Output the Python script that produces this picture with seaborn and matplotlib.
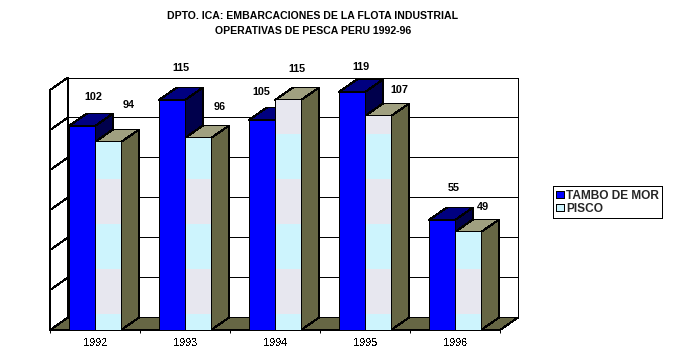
import numpy as np
import pandas as pd
import matplotlib
matplotlib.use('Agg')
import matplotlib.pyplot as plt
from matplotlib.patches import Polygon
import seaborn as sns

# Datos de la grafica
years = ['1992', '1993', '1994', '1995', '1996']
tambo = [102, 115, 105, 119, 55]
pisco = [94, 96, 115, 107, 49]
series_names = ['TAMBO DE MOR', 'PISCO']
y_ticks = [0, 20, 40, 60, 80, 100, 120]

# Desplazamiento en pixeles de cada etiqueta respecto al tope de su barra
tambo_label_dx = [11, 9, -1, 9, 12]
tambo_label_dy = [29, 32, 28, 25, 32]
pisco_label_dx = [21, 22, 9, 21, 15]
pisco_label_dy = [37, 31, 31, 26, 25]

W, H = 694, 359
DX, DY = 0.2, 6.25  # profundidad del efecto 3D en unidades de datos
OLIVE = '#666644'
LW = 0.72

sns.set_theme(style='white')
plt.rcParams['font.family'] = ['Liberation Sans', 'DejaVu Sans']
plt.rcParams['text.antialiased'] = False
plt.rcParams['patch.antialiased'] = False
plt.rcParams['lines.antialiased'] = False

df = pd.DataFrame({
    'anio': years * 2,
    'valor': tambo + pisco,
    'puerto': [series_names[0]] * 5 + [series_names[1]] * 5,
})

fig = plt.figure(figsize=(W / 100, H / 100), dpi=100, facecolor='white')
ax = fig.add_axes([50 / W, (H - 330) / H, 450 / W, 240 / H])
ax.patch.set_visible(False)

sns.barplot(data=df, x='anio', y='valor', hue='puerto', order=years,
            hue_order=series_names, palette=['#0000ff', '#cdf4fd'],
            width=0.58, saturation=1, edgecolor='black', linewidth=LW,
            zorder=3, ax=ax)
ax.set_xlim(-0.5, 4.5)
ax.set_ylim(0, 120)
ax.set_xlabel('')
ax.set_ylabel('')


def face(points, color, z):
    ax.add_patch(Polygon(points, closed=True, facecolor=color, edgecolor='black',
                         linewidth=LW, clip_on=False, zorder=z))


# Paredes y piso
x0, x1 = ax.get_xlim()
y0, y1 = ax.get_ylim()
face([(x0 + DX, y0 + DY), (x1 + DX, y0 + DY), (x1 + DX, y1 + DY), (x0 + DX, y1 + DY)], 'white', 0.2)
face([(x0, y0), (x0 + DX, y0 + DY), (x0 + DX, y1 + DY), (x0, y1)], 'white', 0.2)
face([(x0, y0), (x1, y0), (x1 + DX, y0 + DY), (x0 + DX, y0 + DY)], OLIVE, 0.6)
for v in y_ticks[1:-1]:
    ax.plot([x0, x0 + DX, x1 + DX], [v, v + DY, v + DY], color='black', lw=LW,
            clip_on=False, zorder=0.4)


# Textura de PISCO: bandas alternas cian / gris desde la base
def bands(height, width):
    cyan = np.array([205, 244, 253]) / 255
    grey = np.array([231, 231, 239]) / 255
    tex = np.ones((height, width, 3))
    for i in range(height):
        from_base = height - 1 - i
        tex[i, :] = cyan if int((from_base + 30) // 45) % 2 == 0 else grey
    return tex


tambo_bars, pisco_bars = ax.containers[0], ax.containers[1]

for bar in tambo_bars:
    x, w, h = bar.get_x(), bar.get_width(), bar.get_height()
    face([(x, h), (x + DX, h + DY), (x + w + DX, h + DY), (x + w, h)], '#000080', 1.0)
    face([(x + w, h), (x + w + DX, h + DY), (x + w + DX, DY), (x + w, 0)], '#00004c', 1.0)

for bar in pisco_bars:
    x, w, h = bar.get_x(), bar.get_width(), bar.get_height()
    face([(x, h), (x + DX, h + DY), (x + w + DX, h + DY), (x + w, h)], '#a0a080', 1.5)
    face([(x + w, h), (x + w + DX, h + DY), (x + w + DX, DY), (x + w, 0)], OLIVE, 1.5)

# Leyenda
handles, labels = ax.get_legend_handles_labels()
leg = ax.legend(handles, labels, loc='lower left',
                bbox_to_anchor=(553 / W, (H - 218) / H), bbox_transform=fig.transFigure,
                fancybox=False, framealpha=1, edgecolor='black', borderaxespad=0,
                prop={'family': 'Liberation Sans', 'weight': 'bold', 'size': 8.6},
                handlelength=0.6, handleheight=0.6, handletextpad=0.2,
                labelspacing=0.08, borderpad=0.28)
leg.get_frame().set_linewidth(LW)
for handle in leg.get_patches():
    handle.set_linewidth(LW)
for text in leg.get_texts():
    text.set_antialiased(True)

# Etiquetas de valores
for bars, values, dxs, dys in [(tambo_bars, tambo, tambo_label_dx, tambo_label_dy),
                               (pisco_bars, pisco, pisco_label_dx, pisco_label_dy)]:
    for bar, v, dx, dy in zip(bars, values, dxs, dys):
        ax.annotate(str(v), (bar.get_x() + bar.get_width() / 2, v),
                    xytext=(dx * 0.72, dy * 0.72), textcoords='offset points',
                    ha='center', va='center', fontsize=7.8, fontweight='bold',
                    color='black', annotation_clip=False, zorder=5, antialiased=True)

# Ejes
sns.despine(ax=ax, top=True, right=True)
for side in ['left', 'bottom']:
    ax.spines[side].set_color('black')
    ax.spines[side].set_linewidth(LW)
    ax.spines[side].set_zorder(2.5)
ax.set_yticks([])
ax.set_xticks(range(len(years)))
ax.set_xticklabels(years, fontsize=7.8, color='black')
ax.tick_params(axis='x', which='major', length=0, pad=6)
ax.set_xticks(np.arange(-0.5, 5), minor=True)
ax.tick_params(axis='x', which='minor', bottom=True, length=2, width=LW, color='black')

# La textura va pixel a pixel dentro del borde de cada barra de PISCO
for bar in pisco_bars:
    box = bar.get_window_extent()
    left, right = int(round(box.x0)) + 1, int(round(box.x1))
    bottom, top = int(round(box.y0)) + 1, int(round(box.y1))
    fig.figimage(bands(top - bottom, right - left), xo=left, yo=bottom,
                 origin='upper', zorder=4)

# Titulo
fig.text(313 / W, 1 - 16 / H, 'DPTO. ICA: EMBARCACIONES DE LA FLOTA INDUSTRIAL',
         ha='center', va='center', fontsize=7.55, fontweight='bold', color='black', antialiased=True)
fig.text(313 / W, 1 - 31 / H, 'OPERATIVAS DE PESCA PERU 1992-96',
         ha='center', va='center', fontsize=7.55, fontweight='bold', color='black', antialiased=True)

fig.savefig('out.png', dpi=100, facecolor='white')
